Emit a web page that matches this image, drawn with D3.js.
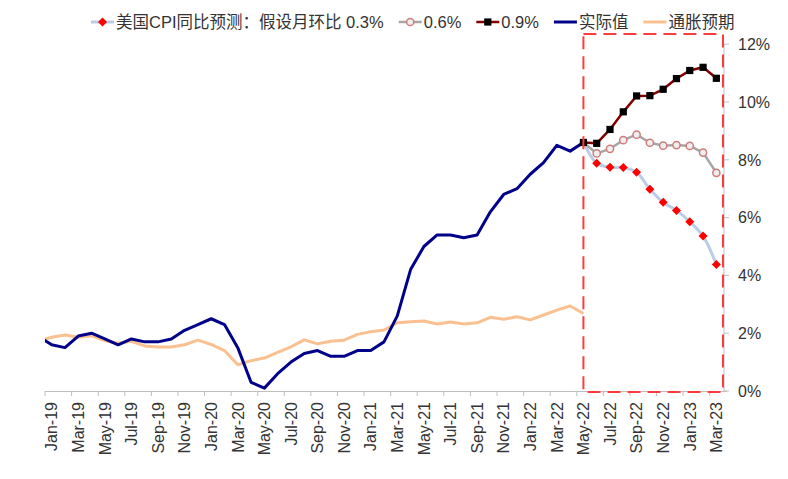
<!DOCTYPE html>
<html>
<head>
<meta charset="utf-8">
<script src="https://cdn.jsdelivr.net/npm/d3@7"></script>
<style>
  body { margin: 0; background: #fff; }
  text { font-family: "Liberation Sans", Arial, "Noto Sans CJK SC", sans-serif; fill: #333; }
</style>
</head>
<body>
<div id="chart"></div>
<script>
// x labels, one every 2 months (index 0 = Jan-19)
var tickLabels = ["Jan-19","Mar-19","May-19","Jul-19","Sep-19","Nov-19","Jan-20","Mar-20","May-20","Jul-20",
  "Sep-20","Nov-20","Jan-21","Mar-21","May-21","Jul-21","Sep-21","Nov-21","Jan-22","Mar-22",
  "May-22","Jul-22","Sep-22","Nov-22","Jan-23","Mar-23"];
var yTicks = [0, 2, 4, 6, 8, 10, 12];

// monthly values Dec-18 .. May-22 (first point sits left of the plot and is clipped)
var actual = [1.9,
  1.6, 1.5, 1.9, 2.0, 1.8, 1.6, 1.8, 1.7, 1.7, 1.8, 2.1, 2.3,
  2.5, 2.3, 1.5, 0.3, 0.1, 0.6, 1.0, 1.3, 1.4, 1.2, 1.2, 1.4,
  1.4, 1.7, 2.6, 4.2, 5.0, 5.4, 5.4, 5.3, 5.4, 6.2, 6.8, 7.0,
  7.5, 7.9, 8.5, 8.3, 8.6];
var expectation = [1.74,
  1.86, 1.94, 1.86, 1.91, 1.74, 1.65, 1.72, 1.56, 1.52, 1.52, 1.60, 1.76,
  1.61, 1.40, 0.91, 1.05, 1.14, 1.34, 1.53, 1.77, 1.63, 1.72, 1.76, 1.96,
  2.05, 2.11, 2.36, 2.40, 2.42, 2.32, 2.39, 2.32, 2.36, 2.55, 2.48, 2.57,
  2.46, 2.63, 2.80, 2.94, 2.68];

// forecasts May-22 .. Mar-23
var fcStart = 40;
var f03 = [8.6, 7.88, 7.74, 7.73, 7.57, 6.98, 6.53, 6.25, 5.86, 5.36, 4.38];
var f06 = [8.6, 8.22, 8.38, 8.68, 8.87, 8.59, 8.49, 8.51, 8.48, 8.25, 7.55];
var f09 = [8.6, 8.57, 9.05, 9.66, 10.21, 10.22, 10.44, 10.81, 11.09, 11.2, 10.82];

var legendItems = [
  {name: "美国CPI同比预测：假设月环比 0.3%", color: "#b9cde7", width: 3, marker: "diamond"},
  {name: "0.6%", color: "#a6a6a6", width: 2.5, marker: "circle"},
  {name: "0.9%", color: "#850000", width: 2.5, marker: "square"},
  {name: "实际值", color: "#00008b", width: 3, marker: null},
  {name: "通胀预期", color: "#fac090", width: 3, marker: null}
];

var W = 788, H = 479;
var plotL = 45, plotR = 723, plotT = 44.2, plotB = 391;

var svg = d3.select("#chart").append("svg").attr("width", W).attr("height", H);

var x = d3.scaleLinear().domain([-0.5, 50.5]).range([plotL, plotR]);
var y = d3.scaleLinear().domain([0, 12]).range([plotB, plotT]);

svg.append("clipPath").attr("id", "plotclip")
  .append("rect").attr("x", plotL).attr("y", 0).attr("width", plotR - plotL).attr("height", H);

// bottom axis
var xAxis = svg.append("g");
xAxis.append("line")
  .attr("x1", plotL).attr("x2", plotR + 4).attr("y1", plotB + 0.5).attr("y2", plotB + 0.5)
  .attr("stroke", "#bfbfbf");
tickLabels.forEach(function(lab, k) {
  var bx = x(2 * k - 0.5);
  xAxis.append("line")
    .attr("x1", bx).attr("x2", bx).attr("y1", plotB).attr("y2", plotB + 5)
    .attr("stroke", "#bfbfbf");
  xAxis.append("text")
    .attr("transform", "translate(" + x(2 * k) + "," + (plotB + 11) + ") rotate(-90)")
    .attr("text-anchor", "end")
    .attr("dy", "0.36em")
    .style("font-size", "16px")
    .text(lab);
});

// right axis
var yAxis = svg.append("g");
yAxis.append("line")
  .attr("x1", plotR + 1).attr("x2", plotR + 1).attr("y1", plotT).attr("y2", plotB)
  .attr("stroke", "#bfbfbf");
yTicks.forEach(function(t) {
  yAxis.append("line")
    .attr("x1", plotR + 1).attr("x2", plotR + 6).attr("y1", y(t)).attr("y2", y(t))
    .attr("stroke", "#bfbfbf");
  yAxis.append("text")
    .attr("x", plotR + 15).attr("y", y(t)).attr("dy", "0.36em")
    .style("font-size", "16px")
    .text(t + "%");
});

var plot = svg.append("g").attr("clip-path", "url(#plotclip)");

var lineActual = d3.line().x(function(d, i) { return x(i - 1); }).y(function(d) { return y(d); });
var lineFc = d3.line().x(function(d, i) { return x(fcStart + i); }).y(function(d) { return y(d); });

plot.append("path").datum(expectation).attr("d", lineActual)
  .attr("fill", "none").attr("stroke", legendItems[4].color).attr("stroke-width", 3).attr("stroke-linejoin", "round");
plot.append("path").datum(actual).attr("d", lineActual)
  .attr("fill", "none").attr("stroke", legendItems[3].color).attr("stroke-width", 3).attr("stroke-linejoin", "round");

function drawMarker(g, type, cx, cy) {
  if (type === "diamond") {
    g.append("path")
      .attr("d", "M" + cx + "," + (cy - 4.5) + "L" + (cx + 4.5) + "," + cy + "L" + cx + "," + (cy + 4.5) + "L" + (cx - 4.5) + "," + cy + "Z")
      .attr("fill", "#ff0000");
  } else if (type === "circle") {
    g.append("circle").attr("cx", cx).attr("cy", cy).attr("r", 3.6)
      .attr("fill", "#eeeeee").attr("stroke", "#cf7c7c").attr("stroke-width", 1.5);
  } else if (type === "square") {
    g.append("rect").attr("x", cx - 3.6).attr("y", cy - 3.6).attr("width", 7.2).attr("height", 7.2)
      .attr("fill", "#000");
  }
}

var fcSeries = [
  {values: f03, item: legendItems[0], curve: d3.curveCatmullRom},
  {values: f06, item: legendItems[1], curve: d3.curveLinear},
  {values: f09, item: legendItems[2], curve: d3.curveLinear}
];
fcSeries.forEach(function(s) {
  plot.append("path").datum(s.values).attr("d", lineFc.curve(s.curve))
    .attr("fill", "none").attr("stroke", s.item.color).attr("stroke-width", s.item.width)
    .attr("stroke-linejoin", "round");
  s.values.forEach(function(v, i) {
    if (i === 0 && s.item.marker !== "square") return;
    drawMarker(plot, s.item.marker, x(fcStart + i), y(v));
  });
});

// red dashed box round the forecast
svg.append("rect")
  .attr("x", x(fcStart)).attr("y", 34)
  .attr("width", plotR - x(fcStart)).attr("height", plotB + 1 - 34)
  .attr("fill", "none").attr("stroke", "#ff3b3b").attr("stroke-width", 2)
  .attr("stroke-dasharray", "13,7");

// legend
var lx = 91, ly = 22;
legendItems.forEach(function(d) {
  var g = svg.append("g");
  g.append("line").attr("x1", lx).attr("x2", lx + 23).attr("y1", ly).attr("y2", ly)
    .attr("stroke", d.color).attr("stroke-width", d.width);
  if (d.marker) drawMarker(g, d.marker, lx + 11.5, ly);
  var t = g.append("text").attr("x", lx + 25).attr("y", ly).attr("dy", "0.36em")
    .style("font-size", "16.5px").text(d.name);
  lx = lx + 25 + t.node().getComputedTextLength() + 15;
});
</script>
</body>
</html>
